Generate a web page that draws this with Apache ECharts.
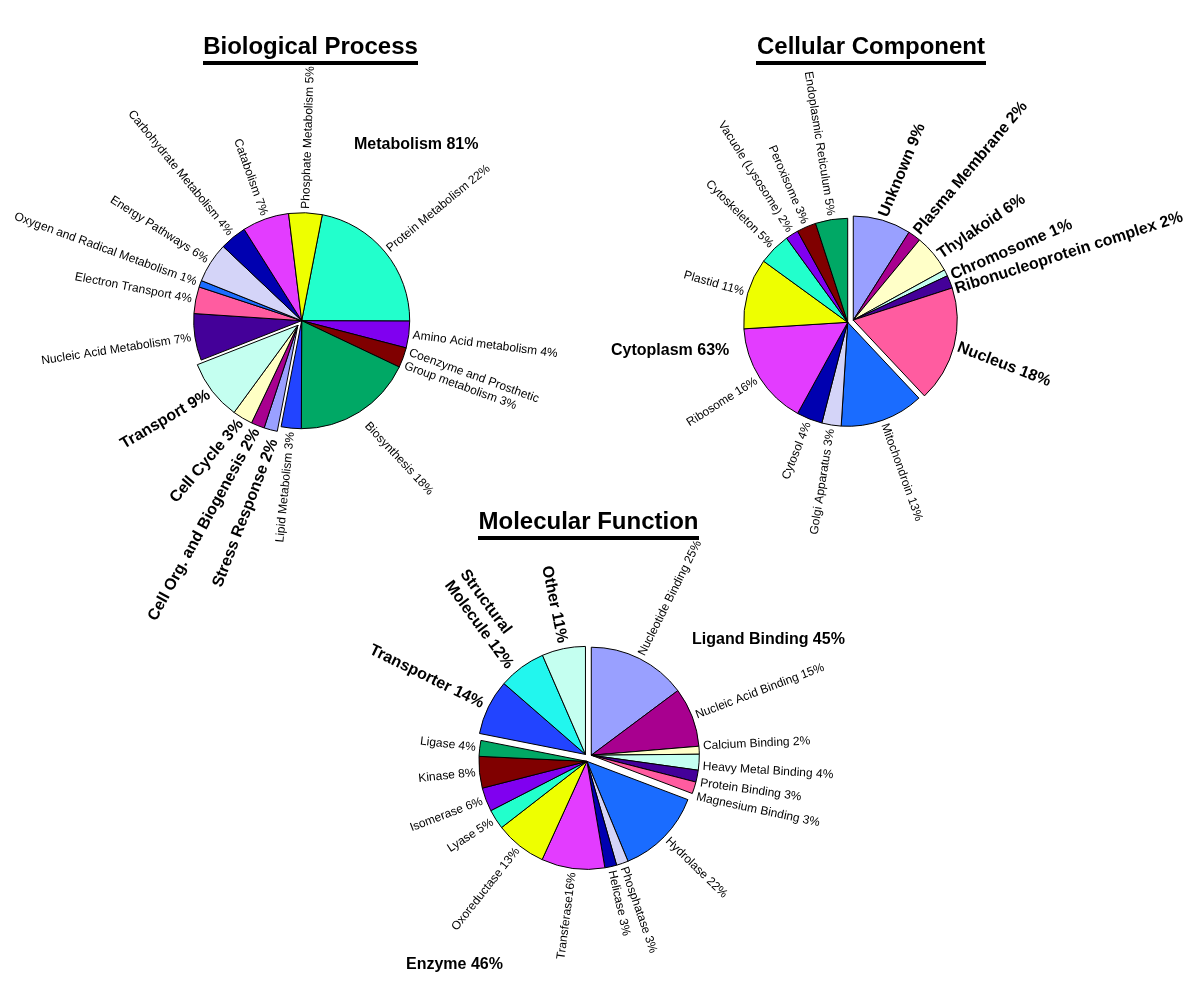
<!DOCTYPE html>
<html><head><meta charset="utf-8">
<script src="https://cdn.jsdelivr.net/npm/echarts@6/dist/echarts.min.js"></script>
<style>html,body{margin:0;padding:0;background:#fff}#c{width:1200px;height:982px}</style>
</head><body><div id="c"></div>
<script>
// ---------- Biological Process ----------
const bpNames = ['Protein Metabolism 22%', 'Amino Acid metabolism 4%', 'Coenzyme and Prosthetic\nGroup metabolism 3%', 'Biosynthesis 18%', 'Lipid Metabolism 3%', 'Stress Response 2%', 'Cell Org. and Biogenesis 2%', 'Cell Cycle 3%', 'Transport 9%', 'Nucleic Acid Metabolism 7%', 'Electron Transport 4%', 'Oxygen and Radical Metabolism 1%', 'Energy Pathways 6%', 'Carbohydrate Metabolism 4%', 'Catabolism 7%', 'Phosphate Metabolism 5%'];
const bpValues = [22, 4, 3, 18, 3, 2, 2, 3, 9, 7, 4, 1, 6, 4, 7, 5];
const bpGroups = [0, 0, 0, 0, 0, 1, 1, 1, 1, 0, 0, 0, 0, 0, 0, 0];
const bpBold = ['Stress Response 2%', 'Cell Org. and Biogenesis 2%', 'Cell Cycle 3%', 'Transport 9%'];
const bpColors = ['#22ffcc', '#8000f0', '#800000', '#00a865', '#2244ff', '#9aa0ff', '#a8008f', '#ffffc4', '#c4fff0', '#440099', '#ff5ca0', '#1c6cff', '#d4d4f8', '#0000b0', '#e33cff', '#eeff00'];

// ---------- Cellular Component ----------
const ccNames = ['Unknown 9%', 'Plasma Membrane 2%', 'Thylakoid 6%', 'Chromosome 1%', 'Ribonucleoprotein complex 2%', 'Nucleus 18%', 'Mitochondroin 13%', 'Golgi Apparatus 3%', 'Cytosol 4%', 'Ribosome 16%', 'Plastid 11%', 'Cytoskeleton 5%', 'Vacuole (Lysosome) 2%', 'Peroxisome 3%', 'Endoplasmic Reticulum 5%'];
const ccValues = [9, 2, 6, 1, 2, 18, 13, 3, 4, 16, 11, 5, 2, 3, 5];
const ccGroups = [1, 1, 1, 1, 1, 1, 0, 0, 0, 0, 0, 0, 0, 0, 0];
const ccBold = ['Unknown 9%', 'Plasma Membrane 2%', 'Thylakoid 6%', 'Chromosome 1%', 'Ribonucleoprotein complex 2%', 'Nucleus 18%'];
const ccColors = ['#99a0ff', '#a8008f', '#ffffc8', '#c4fff0', '#440099', '#ff5ca0', '#1a6cff', '#d4d4f8', '#0000b0', '#e33cff', '#eeff00', '#22ffcc', '#8000f0', '#800000', '#00a865'];

// ---------- Molecular Function ----------
const mfNames = ['Nucleotide Binding 25%', 'Nucleic Acid Binding 15%', 'Calcium Binding 2%', 'Heavy Metal Binding 4%', 'Protein Binding 3%', 'Magnesium Binding 3%', 'Hydrolase 22%', 'Phosphatase 3%', 'Helicase 3%', 'Transferase16%', 'Oxoreductase 13%', 'Lyase 5%', 'Isomerase 6%', 'Kinase 8%', 'Ligase 4%', 'Transporter 14%', 'Structural\nMolecule 12%', 'Other 11%'];
const mfValues = [25, 15, 2, 4, 3, 3, 22, 3, 3, 16, 13, 5, 6, 8, 4, 14, 12, 11];
const mfGroups = [0, 0, 0, 0, 0, 0, 1, 1, 1, 1, 1, 1, 1, 1, 1, 2, 2, 2];
const mfBold = ['Transporter 14%', 'Structural\nMolecule 12%', 'Other 11%'];
const mfColors = ['#99a0ff', '#a8008f', '#ffffc8', '#c4fff0', '#440099', '#ff5ca0', '#1a6cff', '#d4d4f8', '#0000b0', '#e33cff', '#eeff00', '#22ffcc', '#8000f0', '#800000', '#00a865', '#2244ff', '#22f6ee', '#c4fff0'];

// ---------- Titles and group labels ----------
const titles = ['Biological Process', 'Cellular Component', 'Molecular Function'];
const groupLabels = ['Metabolism 81%', 'Cytoplasm 63%', 'Ligand Binding 45%', 'Enzyme 46%'];

// ---------- layout / style (not data) ----------
const FONT = 'Liberation Sans, Arial, sans-serif';
// label tweaks: rotate (deg, ccw), extra radial gap, pixel nudges
const labelTweaks = {
  'Biosynthesis 18%': { rotate: -47, gap: 10 },
  'Transport 9%': { rotate: 30.6 },
  'Cell Cycle 3%': { rotate: 49.6 },
  'Cell Org. and Biogenesis 2%': { rotate: 61.3 },
  'Stress Response 2%': { rotate: 69, dx: -4, dy: 6 },
  'Unknown 9%': { rotate: 67.7 },
  'Plasma Membrane 2%': { rotate: 50.1 },
  'Thylakoid 6%': { rotate: 34.3, dy: 5 },
  'Chromosome 1%': { rotate: 23.4, dy: 5 },
  'Ribonucleoprotein complex 2%': { rotate: 17.7, dx: -1, dy: 9 },
  'Nucleus 18%': { rotate: -21 },
  'Calcium Binding 2%': { dy: -4 },
  'Heavy Metal Binding 4%': { dy: 4 },
  'Protein Binding 3%': { rotate: -8, dy: 6 },
  'Magnesium Binding 3%': { rotate: -12, dy: 8 }
};
const pies = [
  { names: bpNames, values: bpValues, groups: bpGroups, bold: bpBold, colors: bpColors,
    center: [301.7, 320.7], radius: 108, startAngle: 79, explode: [0, 6], gap: 4, boldGap: 4 },
  { names: ccNames, values: ccValues, groups: ccGroups, bold: ccBold, colors: ccColors,
    center: [847.7, 322.3], radius: 104, startAngle: 90, explode: [0, 6], gap: 4, boldGap: 4 },
  { names: mfNames, values: mfValues, groups: mfGroups, bold: mfBold, colors: mfColors,
    center: [588, 757.5], radius: 108, startAngle: 90, explode: [4, 4, 4], gap: 4, boldGap: 6 }
];

const measureCtx = document.createElement('canvas').getContext('2d');
function textWidth(t, font) { measureCtx.font = font; return measureCtx.measureText(t).width; }

function buildSeries(p) {
  const total = p.values.reduce((a, b) => a + b, 0);
  const nGroups = Math.max(...p.groups) + 1;
  const startTop = 90 - p.startAngle; // degrees clockwise from 12 o'clock
  const out = [];
  for (let g = 0; g < nGroups; g++) {
    let cum = 0, gs = null, ge = null;
    p.values.forEach((v, i) => {
      if (p.groups[i] === g) { if (gs === null) gs = cum; ge = cum + v; }
      cum += v;
    });
    const mid = (startTop + (gs + ge) / 2 / total * 360) * Math.PI / 180;
    const d = p.explode[g] || 0;
    const c = [p.center[0] + d * Math.sin(mid), p.center[1] - d * Math.cos(mid)];
    const names = p.names;
    out.push({
      type: 'pie', center: c, radius: p.radius, startAngle: p.startAngle, clockwise: true,
      avoidLabelOverlap: false, silent: true, animation: false, minAngle: 0, minShowLabelAngle: 0,
      emphasis: { disabled: true, scale: false },
      itemStyle: { borderColor: '#000', borderWidth: 1 },
      label: { show: true, position: 'outside', rotate: 'radial', formatter: '{b}',
        fontFamily: FONT, fontSize: 12, color: '#000', distanceToLabelLine: 0, lineHeight: 14 },
      labelLine: { show: false, length: p.gap, length2: 0 },
      labelLayout: function (params) {
        const t = labelTweaks[names[params.dataIndex]] || {};
        return { hideOverlap: false, moveOverlap: null, dx: t.dx || 0, dy: t.dy || 0 };
      },
      data: names.map((n, i) => {
        if (p.groups[i] !== g) {
          return { name: n, value: p.values[i],
            itemStyle: { color: 'rgba(0,0,0,0)', borderWidth: 0 }, label: { show: false } };
        }
        const b = p.bold.indexOf(n) >= 0;
        const t = labelTweaks[n] || {};
        const fs = b ? 16 : 12, fw = b ? 'bold' : 'normal', lh = b ? 19 : 14;
        const label = { fontSize: fs, fontWeight: fw, lineHeight: lh };
        if (t.rotate !== undefined) label.rotate = t.rotate;
        if (n.indexOf('\n') >= 0) {
          const lines = n.split('\n');
          const font = fw + ' ' + fs + 'px ' + FONT;
          const w = Math.max(...lines.map(l => textWidth(l, font))) + 1;
          label.formatter = lines.map((l, k) => '{l' + k + '|' + l + '}').join('\n');
          label.rich = {};
          lines.forEach((l, k) => {
            label.rich['l' + k] = { width: w, align: 'left', fontSize: fs, fontWeight: fw, fontFamily: FONT, lineHeight: lh, color: '#000' };
          });
        }
        return { name: n, value: p.values[i], itemStyle: { color: p.colors[i] }, label: label,
          labelLine: { show: false, length: (b ? p.boldGap : p.gap) + (t.gap || 0), length2: 0 } };
      })
    });
  }
  return out;
}

const series = [];
pies.forEach(p => series.push(...buildSeries(p)));

const titlePos = [[310.5, 47, 215, 61], [871, 47, 230, 61], [588.5, 522, 221, 536]];
const groupPos = [[354, 145], [611, 351], [692, 640], [406, 965]];
const graphic = [];
titles.forEach((t, i) => {
  const [x, y, w, uy] = titlePos[i];
  graphic.push({ type: 'text', x: x, y: y, style: { text: t, font: 'bold 24px ' + FONT, fill: '#000', align: 'center', verticalAlign: 'middle' } });
  graphic.push({ type: 'rect', shape: { x: x - w / 2, y: uy, width: w, height: 4 }, style: { fill: '#000' } });
});
groupLabels.forEach((t, i) => {
  const [x, y] = groupPos[i];
  graphic.push({ type: 'text', x: x, y: y, style: { text: t, font: 'bold 16px ' + FONT, fill: '#000', align: 'left', verticalAlign: 'middle' } });
});

const chart = echarts.init(document.getElementById('c'), null, { renderer: 'canvas' });
chart.setOption({ backgroundColor: '#fff', animation: false, series: series, graphic: graphic });
</script></body></html>
